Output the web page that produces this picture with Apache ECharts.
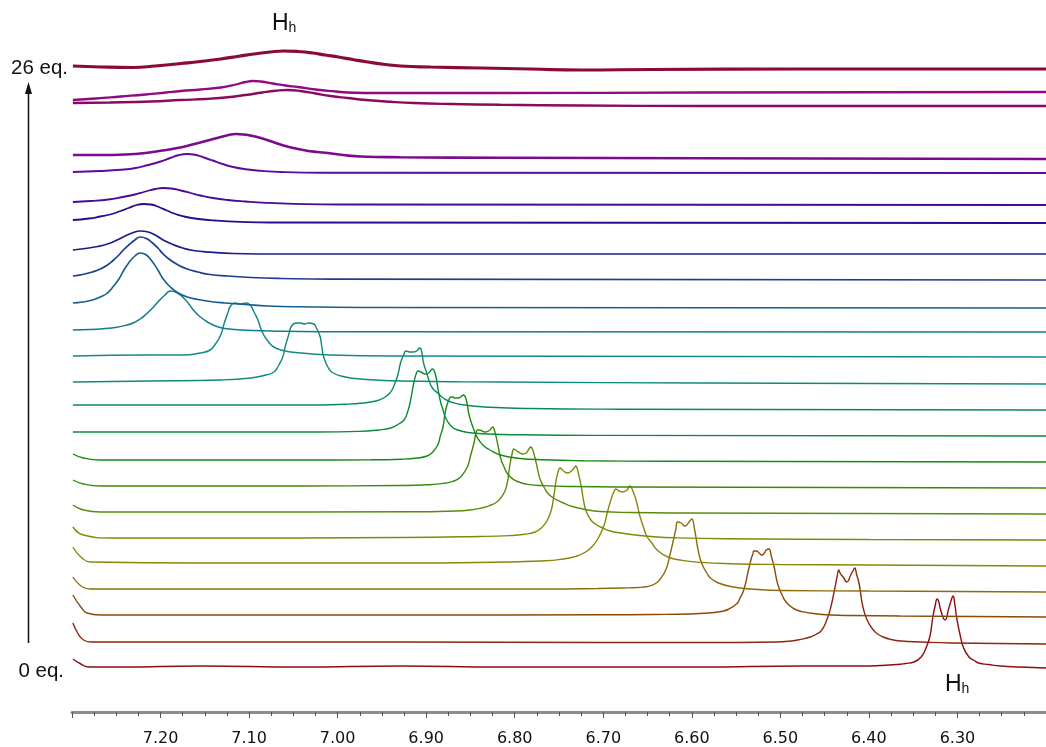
<!DOCTYPE html>
<html>
<head>
<meta charset="utf-8">
<script src="https://cdn.jsdelivr.net/npm/echarts/dist/echarts.min.js"></script>
<style>
html,body{margin:0;padding:0;background:#ffffff;}
#chart{width:1046px;height:747px;}
</style>
</head>
<body>
<div id="chart"></div>
<script>
// ---- Spectra: [chemical shift (ppm), intensity above the trace's own baseline] ----
// trace01 = 0 eq. (bottom) ... trace24 = 26 eq. (top)
const trace01 = [[7.299,9],[7.290,4],[7.281,1],[7.245,1],[7.155,2],[7.042,1],[6.929,2],[6.816,1],[6.703,1],[6.590,1],[6.477,2],[6.409,2],[6.387,2.5],[6.368,3.5],[6.359,4.5],[6.349,6],[6.341,11],[6.336,19],[6.331,32],[6.328,50],[6.325,63],[6.323,69],[6.321,66],[6.319,58],[6.314,48],[6.310,59],[6.307,68],[6.305,72],[6.303,64],[6.301,51],[6.297,33],[6.293,20],[6.287,11],[6.281,7.5],[6.276,5],[6.265,3.5],[6.251,2],[6.230,1],[6.200,0]];
const trace02 = [[7.299,21],[7.293,10],[7.287,4],[7.279,2],[7.268,2],[7.155,2],[6.929,2],[6.703,1.5],[6.590,1.5],[6.505,2],[6.488,3],[6.477,4.6],[6.466,7],[6.460,9.5],[6.454,13],[6.448,23],[6.443,37],[6.438,58],[6.436,67],[6.434,74],[6.432,70],[6.429,67],[6.425,62],[6.420,70],[6.418,73],[6.416,76],[6.414,70],[6.411,60],[6.407,38],[6.402,24],[6.395,14],[6.390,10],[6.384,7],[6.375,4.5],[6.364,3],[6.341,2],[6.307,1],[6.200,0]];
const trace03 = [[7.299,22],[7.290,10],[7.283,4],[7.268,2],[7.155,2],[6.929,2],[6.703,2.2],[6.643,2.5],[6.603,3],[6.581,4],[6.567,5.5],[6.558,8],[6.549,13.5],[6.546,18],[6.541,28],[6.536,47],[6.533,58],[6.531,63],[6.530,66],[6.527,66],[6.524,64],[6.521,62],[6.518,64],[6.516,67],[6.513,68],[6.510,60],[6.507,50],[6.503,33],[6.497,20],[6.494,15.5],[6.489,11],[6.483,7.5],[6.476,5.5],[6.463,3.5],[6.443,2],[6.420,1.5],[6.364,1],[6.200,0]];
const trace04 = [[7.299,15],[7.288,5],[7.279,3],[7.155,3],[6.929,3],[6.759,3],[6.706,3.5],[6.678,4],[6.661,4.5],[6.650,5.5],[6.641,8.5],[6.634,15],[6.629,23],[6.625,36],[6.620,55],[6.618,63],[6.616,70],[6.612,69],[6.608,66],[6.603,70],[6.600,73],[6.597,63],[6.592,38],[6.588,27],[6.583,19],[6.579,14],[6.570,9],[6.553,5],[6.533,3],[6.499,1.5],[6.400,1],[6.200,0]];
const trace05 = [[7.299,19],[7.290,9],[7.279,4],[7.155,3],[6.929,3],[6.810,4],[6.771,5],[6.748,6.6],[6.731,9.6],[6.720,14],[6.711,21],[6.705,29],[6.699,41],[6.695,55],[6.690,70],[6.688,74],[6.686,77],[6.682,75],[6.678,74],[6.673,76],[6.670,80],[6.667,76],[6.663,66],[6.659,51],[6.655,40],[6.651,30],[6.646,24],[6.638,15],[6.627,9],[6.611,5.6],[6.590,3.6],[6.557,2.3],[6.501,1.5],[6.400,1],[6.200,0]];
const trace06 = [[7.299,13],[7.287,5],[7.257,2],[7.155,2],[6.929,2.5],[6.840,3.5],[6.806,4.4],[6.789,5.7],[6.777,8],[6.770,12],[6.764,18.5],[6.759,29],[6.756,43],[6.753,61],[6.751,68],[6.749,72],[6.747,71],[6.745,69],[6.740,67],[6.736,69],[6.733,72],[6.731,74],[6.729,70],[6.725,54],[6.722,38],[6.719,28],[6.714,20],[6.709,16],[6.703,13],[6.692,9],[6.680,7],[6.663,5],[6.646,3.5],[6.618,2.2],[6.562,1.2],[6.400,0.5],[6.200,0]];
const trace07 = [[7.299,9],[7.287,4],[7.268,2],[7.155,2],[6.914,2.2],[6.875,2.8],[6.850,4],[6.835,6.5],[6.827,9],[6.821,11.5],[6.816,16],[6.811,23],[6.808,33],[6.806,46],[6.803,60],[6.801,65],[6.799,64],[6.794,61],[6.791,60],[6.787,61],[6.784,65],[6.782,67],[6.780,65],[6.776,52],[6.773,40],[6.771,34],[6.767,27],[6.763,21],[6.757,16.5],[6.751,13.5],[6.745,11],[6.735,7.5],[6.723,5],[6.703,2.5],[6.669,1.5],[6.612,1],[6.200,0]];
const trace08 = [[7.299,8],[7.287,4],[7.268,2],[7.042,2],[6.932,2.5],[6.898,3.2],[6.880,4.6],[6.870,6.6],[6.863,9.6],[6.858,14.6],[6.853,22],[6.850,32],[6.846,45],[6.844,54],[6.842,58],[6.840,58],[6.837,57],[6.833,56],[6.828,58],[6.825,61],[6.823,58],[6.819,43],[6.816,30],[6.812,21],[6.808,14],[6.802,8.8],[6.794,5.6],[6.785,3.6],[6.768,2.4],[6.735,1.5],[6.678,1],[6.200,0]];
const trace09 = [[7.299,8],[7.287,4],[7.268,2],[7.042,2],[6.963,2.2],[6.929,2.8],[6.910,4],[6.899,6],[6.893,9.5],[6.887,17],[6.884,26],[6.881,35],[6.878,52],[6.874,63],[6.872,65],[6.870,65],[6.868,64],[6.864,64],[6.861,65],[6.858,67],[6.855,63],[6.852,49],[6.850,42],[6.846,32],[6.842,24],[6.836,17],[6.829,12.5],[6.816,7],[6.796,3.8],[6.767,2.2],[6.722,1.3],[6.632,0.8],[6.200,0]];
const trace10 = [[7.299,4],[7.211,4],[7.022,4],[6.976,4.6],[6.954,6],[6.940,8],[6.931,12],[6.925,16],[6.921,24],[6.918,34],[6.914,53],[6.911,63],[6.909,65],[6.904,63],[6.901,62],[6.897,63],[6.893,67],[6.890,63],[6.887,49],[6.884,35],[6.881,26],[6.878,18],[6.872,10],[6.866,6.5],[6.853,3.5],[6.830,2],[6.791,1.2],[6.712,0.6],[6.200,0]];
const trace11 = [[7.299,5],[7.211,5],[7.036,5],[6.991,5.8],[6.971,7],[6.957,9],[6.948,12],[6.941,17],[6.937,23],[6.932,35],[6.929,47],[6.925,56],[6.923,59],[6.919,58],[6.915,58],[6.911,59],[6.907,62],[6.905,58],[6.903,47],[6.899,36],[6.897,30],[6.893,22],[6.887,17],[6.880,11.5],[6.872,8],[6.857,5],[6.828,2.8],[6.783,1.5],[6.681,0.8],[6.200,0]];
const trace12 = [[7.299,2],[7.211,3],[7.132,4],[7.098,6],[7.081,9],[7.072,12],[7.067,18],[7.062,27],[7.059,38],[7.055,50],[7.052,58],[7.047,61],[7.042,61],[7.037,60],[7.033,61],[7.027,60],[7.024,56],[7.020,48],[7.018,38],[7.016,28],[7.011,17],[7.005,11],[6.991,7],[6.974,5],[6.929,3],[6.816,2],[6.590,1],[6.200,0]];
const trace13 = [[7.299,1],[7.211,2],[7.174,2],[7.155,4],[7.144,7],[7.138,13],[7.132,22],[7.128,34],[7.124,44],[7.121,51],[7.116,54],[7.110,53],[7.103,54],[7.098,51],[7.095,46],[7.090,37],[7.087,29],[7.084,23],[7.078,15],[7.072,10],[7.064,7],[7.053,5],[7.008,2],[6.929,1],[6.200,0]];
const trace14 = [[7.299,2],[7.279,2.5],[7.262,3.5],[7.251,4.5],[7.240,6.5],[7.231,9],[7.223,13],[7.216,18],[7.209,24],[7.202,31],[7.195,37],[7.189,41],[7.182,39.5],[7.175,35],[7.168,28],[7.162,21],[7.155,15],[7.147,10],[7.138,6],[7.127,3.5],[7.110,2],[7.076,1],[7.019,0.3],[6.200,0]];
const trace15 = [[7.299,5],[7.288,6],[7.277,8],[7.268,11],[7.260,15],[7.253,22],[7.247,29],[7.242,37],[7.236,45],[7.229,52],[7.223,55],[7.216,53],[7.209,46],[7.203,38],[7.197,29],[7.189,21],[7.180,15],[7.170,11],[7.158,8.5],[7.144,6.5],[7.127,5],[7.104,3.5],[7.079,2],[7.042,1.2],[6.951,0.5],[6.200,0]];
const trace16 = [[7.299,4],[7.288,5.5],[7.277,8],[7.268,11],[7.260,15],[7.253,20],[7.247,25],[7.242,30],[7.236,35],[7.229,40],[7.223,43],[7.216,41.5],[7.209,37],[7.203,32],[7.197,26],[7.189,20],[7.180,15],[7.170,11],[7.158,8],[7.144,5.5],[7.124,4],[7.098,2.5],[7.064,1.5],[7.008,0.8],[6.200,0]];
const trace17 = [[7.299,4],[7.285,5.5],[7.271,7.5],[7.260,10],[7.249,14],[7.240,18],[7.232,21],[7.223,23],[7.214,22],[7.206,19],[7.197,14],[7.186,9.5],[7.175,6],[7.163,3.5],[7.144,1.8],[7.118,0.5],[7.064,0],[6.200,0]];
const trace18 = [[7.299,3],[7.281,4.5],[7.268,6.5],[7.257,8.5],[7.245,12],[7.236,15],[7.227,18],[7.219,19],[7.211,18.5],[7.202,16],[7.193,12.5],[7.183,9],[7.171,6],[7.157,4],[7.138,2.5],[7.110,1.2],[7.076,0.5],[6.200,0]];
const trace19 = [[7.299,3],[7.279,4],[7.259,5.5],[7.243,8],[7.229,10.5],[7.217,13.5],[7.206,16],[7.197,17],[7.188,16.5],[7.177,14.5],[7.166,12],[7.155,9.5],[7.141,7],[7.124,5],[7.104,3.5],[7.081,2.2],[7.050,1.2],[6.997,0.5],[6.200,0]];
const trace20 = [[7.299,1],[7.268,2],[7.245,3.2],[7.228,5],[7.214,8],[7.200,11.5],[7.189,15],[7.179,18],[7.170,19],[7.160,18],[7.151,15.5],[7.141,12.5],[7.130,9],[7.118,6],[7.104,3.8],[7.087,2.2],[7.064,1],[7.019,0.3],[6.200,0]];
const trace21 = [[7.299,4],[7.268,4],[7.240,4.5],[7.217,6],[7.198,8.5],[7.181,11],[7.164,14.5],[7.149,18],[7.134,21.5],[7.123,24],[7.115,25],[7.106,24.5],[7.096,23],[7.085,20.5],[7.073,17],[7.061,13.5],[7.050,11],[7.036,8.5],[7.023,7],[7.011,6],[6.994,4],[6.974,2.5],[6.929,1.8],[6.816,1.2],[6.590,0.8],[6.200,0]];
const trace22 = [[7.299,3],[7.257,3.5],[7.211,4.5],[7.177,6],[7.149,7],[7.127,8.5],[7.104,11],[7.085,13.5],[7.070,15.2],[7.057,16],[7.042,15],[7.025,12.5],[7.008,10],[6.989,8],[6.968,6],[6.940,4.2],[6.914,3],[6.872,2],[6.816,1.2],[6.725,0.5],[6.590,0],[6.200,0]];
const trace23 = [[7.299,-8],[7.273,-6.5],[7.245,-4.5],[7.217,-2.5],[7.194,-0.5],[7.177,1],[7.155,2.5],[7.132,4.5],[7.115,7.5],[7.104,10],[7.096,11],[7.087,10.5],[7.073,8.5],[7.059,6.5],[7.045,5],[7.025,2.5],[7.002,0.5],[6.989,-0.5],[6.951,-1],[6.816,-1],[6.590,-0.5],[6.200,0]];
const trace24 = [[7.299,3],[7.268,2],[7.231,1.5],[7.206,3],[7.177,5.5],[7.155,7.5],[7.132,10],[7.110,13],[7.090,15.5],[7.076,17],[7.061,18],[7.045,17.5],[7.028,16],[7.014,14],[6.999,12],[6.983,9.5],[6.966,7],[6.946,4.5],[6.929,3],[6.895,2],[6.838,1],[6.782,0],[6.725,-1],[6.646,-0.5],[6.477,0],[6.200,0]];

const traces = [trace01,trace02,trace03,trace04,trace05,trace06,trace07,trace08,trace09,trace10,trace11,trace12,
                trace13,trace14,trace15,trace16,trace17,trace18,trace19,trace20,trace21,trace22,trace23,trace24];

// vertical stacking offset of each trace (same units as intensity)
const stackOffsets = [44,68,95,120,146,172,198,224,250,276,302,328,355,380,404,432,458,489,507,539,553,606,620,643];

// titration end labels
const eqLabelBottom = '0 eq.';
const eqLabelTop = '26 eq.';

// ---- styles ----
const traceColors = ['#8c0d10','#8c280c','#8c4a0a','#8c6c0a','#8a860a','#7a8c0a','#5a8c0a','#3a8a0a','#168a14','#0a8a3a','#0a8a58','#0f8a78',
                     '#148a8c','#137c8f','#155e8f','#1a3f8f','#1a1c8c','#2c0a90','#4b0a96','#600a9a','#7c0a8e','#8a0a5c','#920a82','#8c0a38'];
const lineWidths = [1.4,1.4,1.4,1.4,1.4,1.4,1.4,1.4,1.4,1.4,1.4,1.4,1.5,1.5,1.6,1.7,1.7,1.8,1.8,1.9,2.6,2.4,2.3,3.2];

const chart = echarts.init(document.getElementById('chart'), null, {renderer: 'canvas'});

const series = traces.map((t, i) => ({
  type: 'line',
  data: t.map(p => [p[0], stackOffsets[i] + p[1]]),
  showSymbol: false,
  symbol: 'none',
  smooth: 0.5,
  silent: true,
  animation: false,
  lineStyle: {color: traceColors[i], width: lineWidths[i]},
  itemStyle: {color: traceColors[i]}
}));

const option = {
  animation: false,
  backgroundColor: '#ffffff',
  grid: {left: 72, right: 0, top: 0, bottom: 35},
  xAxis: {
    type: 'value',
    min: 6.2,
    max: 7.3,
    interval: 0.1,
    inverse: true,
    axisLine: {show: true, lineStyle: {color: '#8c8c8c', width: 3}},
    axisTick: {show: true, length: 6, lineStyle: {color: '#555', width: 1}},
    minorTick: {show: true, splitNumber: 4, length: 4, lineStyle: {color: '#555', width: 1}},
    splitLine: {show: false},
    minorSplitLine: {show: false},
    axisLabel: {
      formatter: v => v.toFixed(2),
      showMinLabel: false,
      showMaxLabel: false,
      fontFamily: 'DejaVu Sans',
      fontSize: 16,
      color: '#111',
      margin: 19
    }
  },
  yAxis: {type: 'value', min: 0, max: 712, show: false},
  series: series,
  graphic: [
    {type: 'line', shape: {x1: 28.5, y1: 643, x2: 28.5, y2: 92}, style: {stroke: '#111', lineWidth: 1.5}},
    {type: 'polygon', shape: {points: [[28.5, 82], [25, 94], [32, 94]]}, style: {fill: '#111'}},
    {type: 'text', x: 68, y: 68, style: {text: eqLabelTop, fontSize: 20.5, fontFamily: 'Liberation Sans', fill: '#111', align: 'right', verticalAlign: 'middle'}},
    {type: 'text', x: 64, y: 671, style: {text: eqLabelBottom, fontSize: 20.5, fontFamily: 'Liberation Sans', fill: '#111', align: 'right', verticalAlign: 'middle'}},
    {type: 'text', x: 272, y: 24, style: {text: '{a|H}{b|h}', align: 'left', verticalAlign: 'middle',
      rich: {a: {fontSize: 23, fontFamily: 'Liberation Sans', fill: '#111', verticalAlign: 'bottom'},
             b: {fontSize: 14, fontFamily: 'Liberation Sans', fill: '#111', verticalAlign: 'bottom'}}}},
    {type: 'text', x: 945, y: 685, style: {text: '{a|H}{b|h}', align: 'left', verticalAlign: 'middle',
      rich: {a: {fontSize: 23, fontFamily: 'Liberation Sans', fill: '#111', verticalAlign: 'bottom'},
             b: {fontSize: 14, fontFamily: 'Liberation Sans', fill: '#111', verticalAlign: 'bottom'}}}}
  ]
};
chart.setOption(option);
</script>
</body>
</html>
